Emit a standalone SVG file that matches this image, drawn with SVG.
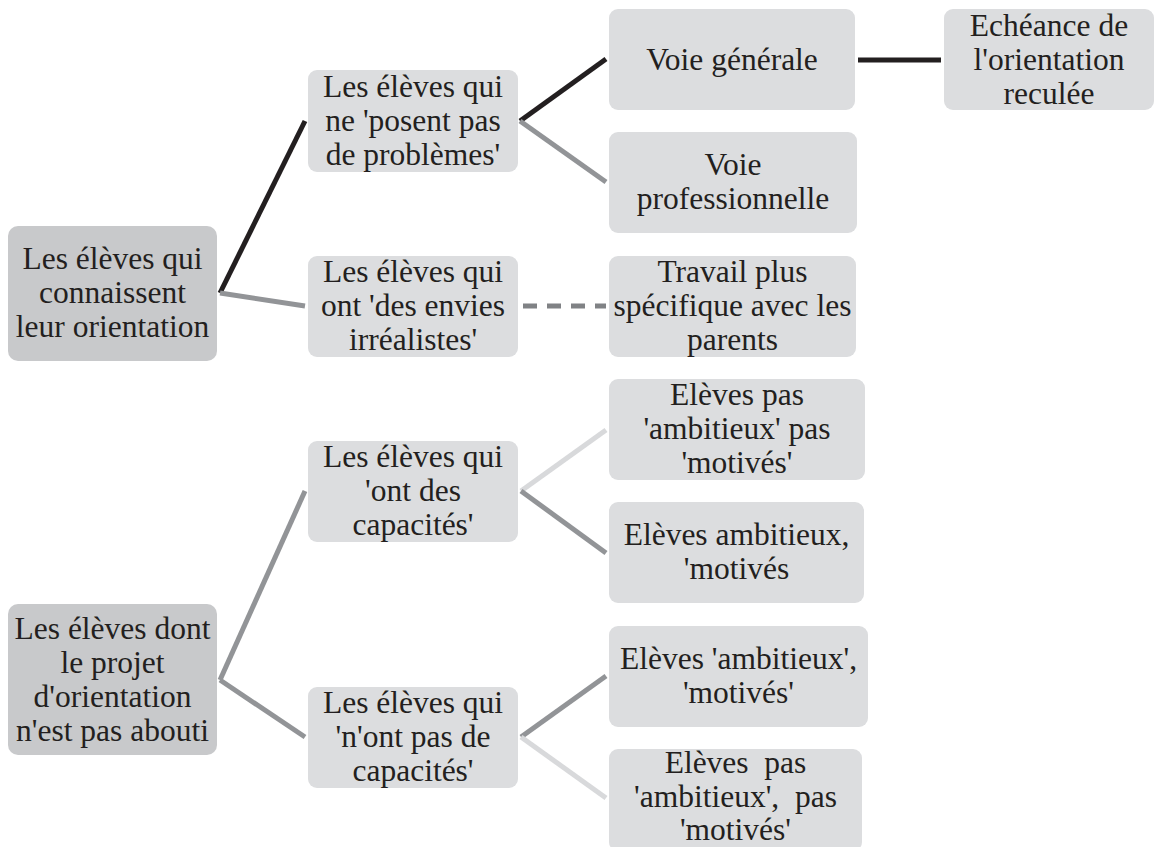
<svg xmlns="http://www.w3.org/2000/svg" width="1156" height="847" viewBox="0 0 1156 847">
<style>
.root{fill:#c8c9cb}
.box{fill:#dcdddf}
text{font-family:"Liberation Serif","Times New Roman",serif;font-size:31.5px;fill:#231f20;text-anchor:middle}
.c{fill:none;stroke-width:5}
.k{stroke:#231f20}
.g{stroke:#929497}
.l{stroke:#d8d9db}
.d{stroke:#808285;stroke-dasharray:14 10}
</style>
<rect width="1156" height="847" fill="#ffffff"/>
<g id="connectors">
<line class="c k" x1="220" y1="293" x2="305" y2="121"/>
<line class="c g" x1="220" y1="293" x2="305" y2="306"/>
<line class="c k" x1="520" y1="121" x2="606" y2="59"/>
<line class="c g" x1="520" y1="121" x2="606" y2="182"/>
<line class="c d" x1="523" y1="306" x2="606" y2="306"/>
<line class="c k" x1="858" y1="60" x2="941" y2="60"/>
<line class="c g" x1="220" y1="680" x2="305" y2="491"/>
<line class="c g" x1="220" y1="680" x2="305" y2="737"/>
<line class="c l" x1="521" y1="491" x2="606" y2="430"/>
<line class="c g" x1="521" y1="491" x2="606" y2="553"/>
<line class="c g" x1="521" y1="737" x2="606" y2="676"/>
<line class="c l" x1="521" y1="737" x2="606" y2="798"/>
</g>
<g id="n1"><rect class="root" x="8" y="226" width="209" height="135" rx="10"/>
<text x="112.5" y="269">Les élèves qui</text><text x="112.5" y="303">connaissent</text><text x="112.5" y="337">leur orientation</text></g>
<g id="n2"><rect class="root" x="8" y="604" width="209" height="151" rx="10"/>
<text x="112.5" y="639">Les élèves dont</text><text x="112.5" y="673">le projet</text><text x="112.5" y="707">d'orientation</text><text x="112.5" y="741">n'est pas abouti</text></g>
<g id="n3"><rect class="box" x="308" y="70" width="210" height="102" rx="9"/>
<text x="413" y="97">Les élèves qui</text><text x="413" y="131">ne 'posent pas</text><text x="413" y="165">de problèmes'</text></g>
<g id="n4"><rect class="box" x="308" y="256" width="210" height="101" rx="9"/>
<text x="413" y="282">Les élèves qui</text><text x="413" y="316">ont 'des envies</text><text x="413" y="350">irréalistes'</text></g>
<g id="n5"><rect class="box" x="308" y="441" width="210" height="101" rx="9"/>
<text x="413" y="467">Les élèves qui</text><text x="413" y="501">'ont des</text><text x="413" y="535">capacités'</text></g>
<g id="n6"><rect class="box" x="308" y="687" width="210" height="101" rx="9"/>
<text x="413" y="713">Les élèves qui</text><text x="413" y="747">'n'ont pas de</text><text x="413" y="781">capacités'</text></g>
<g id="n7"><rect class="box" x="609" y="9" width="246" height="101" rx="9"/>
<text x="732" y="70">Voie générale</text></g>
<g id="n8"><rect class="box" x="609" y="132" width="248" height="101" rx="9"/>
<text x="733" y="175">Voie</text><text x="733" y="209">professionnelle</text></g>
<g id="n9"><rect class="box" x="609" y="256" width="247" height="101" rx="9"/>
<text x="732.5" y="282">Travail plus</text><text x="732.5" y="316">spécifique avec les</text><text x="732.5" y="350">parents</text></g>
<g id="n10"><rect class="box" x="609" y="379" width="256" height="101" rx="9"/>
<text x="737" y="405">Elèves pas</text><text x="737" y="439">'ambitieux' pas</text><text x="737" y="473">'motivés'</text></g>
<g id="n11"><rect class="box" x="609" y="502" width="255" height="101" rx="9"/>
<text x="736.5" y="545">Elèves ambitieux,</text><text x="736.5" y="579">'motivés</text></g>
<g id="n12"><rect class="box" x="609" y="626" width="259" height="101" rx="9"/>
<text x="738.5" y="669">Elèves 'ambitieux',</text><text x="738.5" y="703">'motivés'</text></g>
<g id="n13"><rect class="box" x="609" y="749" width="253" height="102" rx="9"/>
<text x="735.5" y="773" xml:space="preserve">Elèves  pas</text><text x="735.5" y="807" xml:space="preserve">'ambitieux',  pas</text><text x="735.5" y="840">'motivés'</text></g>
<g id="n14"><rect class="box" x="944" y="9" width="210" height="101" rx="9"/>
<text x="1049" y="36">Echéance de</text><text x="1049" y="70">l'orientation</text><text x="1049" y="104">reculée</text></g>
</svg>
